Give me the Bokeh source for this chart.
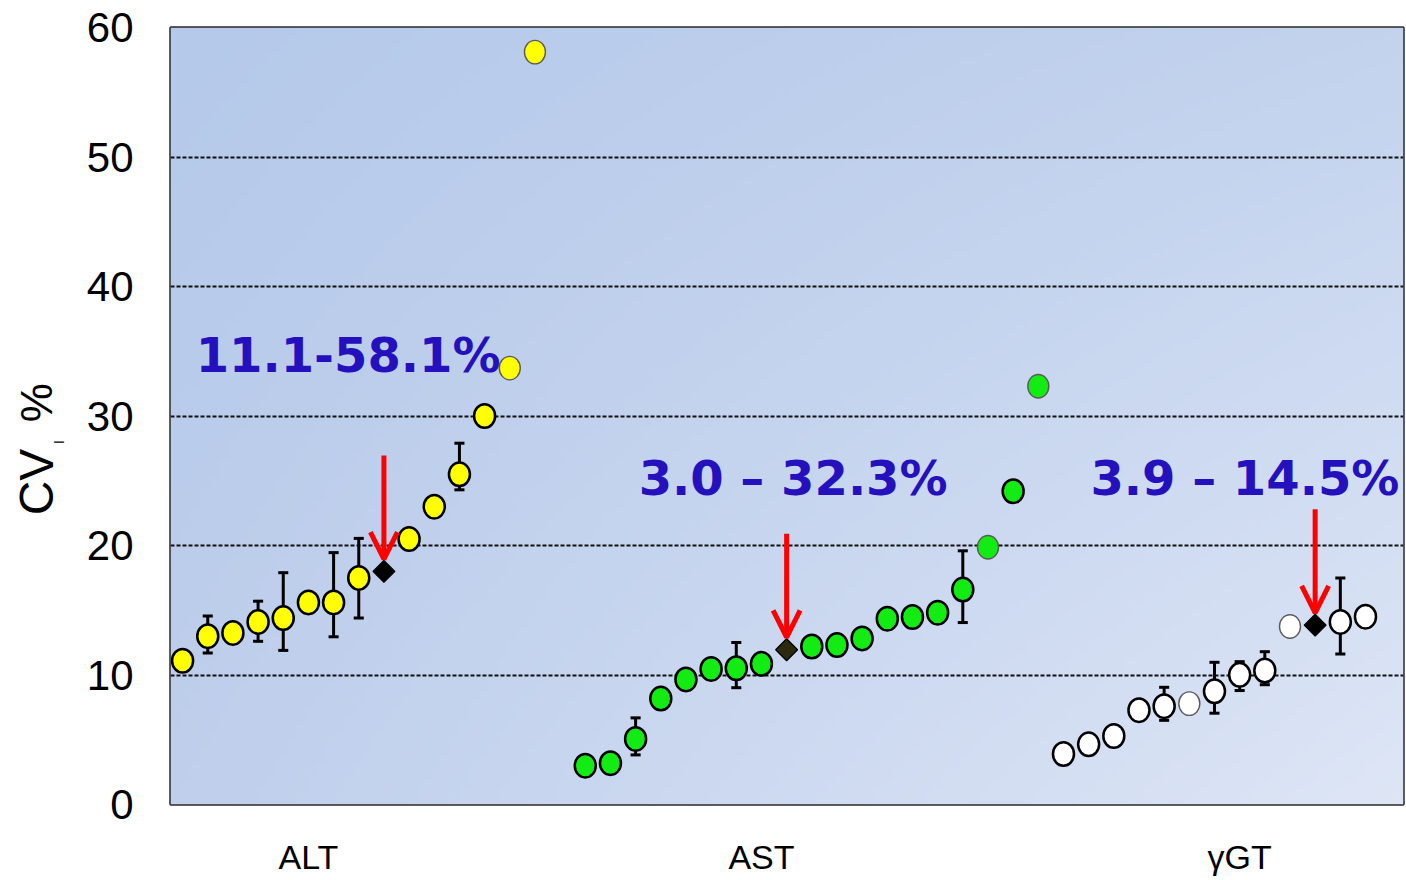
import numpy as np
from bokeh.plotting import figure
from bokeh.layouts import row
from bokeh.models import Range1d, FixedTicker, Label, Arrow, OpenHead, ColumnDataSource
from bokeh.core.properties import value
from bokeh.embed import file_html
from bokeh.resources import INLINE

# ---------------- data ----------------
groups = ["ALT", "AST", "γGT"]

alt_cv = [11.1, 13.0, 13.25, 14.1, 14.4, 15.6, 15.6, 17.5, 20.5, 23.0, 25.5, 30.0, 33.7, 58.1]
alt_err_lo = [None, 11.7, None, 12.6, 11.9, None, 12.95, 14.4, None, None, 24.3, None, None, None]
alt_err_hi = [None, 14.55, None, 15.7, 17.9, None, 19.45, 20.55, None, None, 27.9, None, None, None]
alt_pooled = 18.0

ast_cv = [3.0, 3.19, 5.06, 8.18, 9.66, 10.47, 10.52, 10.86, 12.2, 12.31, 12.82,
          14.35, 14.48, 14.81, 16.6, 19.87, 24.19, 32.3]
ast_err_lo = [None, None, 3.83, None, None, None, 9.02, None, None, None, None,
              None, None, None, 14.05, None, None, None]
ast_err_hi = [None, None, 6.69, None, None, None, 12.51, None, None, None, None,
              None, None, None, 19.59, None, None, None]
ast_pooled = 11.95

ggt_cv = [3.9, 4.65, 5.29, 7.28, 7.59, 7.79, 8.74, 10.01, 10.34, 13.75, 14.1, 14.5]
ggt_err_lo = [None, None, None, None, 6.5, None, 7.05, 8.8, 9.25, None, 11.62, None]
ggt_err_hi = [None, None, None, None, 9.05, None, 10.98, 11.03, 11.8, None, 17.5, None]
ggt_pooled = 13.85

range_labels = ["11.1-58.1%", "3.0 – 32.3%", "3.9 – 14.5%"]
y_ticks = [0, 10, 20, 30, 40, 50, 60]
y_title = ["CV", "I", "%"]

# ---------------- style / layout ----------------
group_start = [0, 16, 35]
group_label_slot = [5, 23, 42]
fill_colors = ["#ffff00", "#12ec12", "#ffffff"]
pooled_colors = ["#000000", "#2b2a10", "#000000"]
faint_outline = [{12, 13}, {15, 17}, {5, 9}]
range_label_pos = [(0.52, 34.7), (18.12, 25.2), (36.07, 25.2)]
X0, X1 = -0.48, 48.51
TOTAL_W, TOTAL_H = 1405, 878
TITLE_W = 70

p = figure(width=TOTAL_W - TITLE_W, height=TOTAL_H, output_backend="svg", toolbar_location=None,
           x_range=Range1d(X0, X1), y_range=Range1d(0, 60))
p.min_border_left = 100
p.min_border_right = 2
p.min_border_top = 27
p.min_border_bottom = TOTAL_H - 810
p.background_fill_color = "#c6d4ee"
p.border_fill_color = "white"
p.outline_line_color = "#2a2a2a"
p.outline_line_width = 2.5

# gradient background
H, W = 128, 128
u = np.linspace(0, 1, W)[None, :]
v = np.linspace(0, 1, H)[:, None]
tl = np.array([181, 201, 234.0]); tr = np.array([195, 211, 238.0])
bl = np.array([191, 207, 236.0]); br = np.array([222, 230, 246.0])
rgb = ((1 - u)[..., None] * v[..., None] * tl + u[..., None] * v[..., None] * tr +
       (1 - u)[..., None] * (1 - v)[..., None] * bl + u[..., None] * (1 - v)[..., None] * br)
rgba = np.zeros((H, W, 4), dtype=np.uint8)
rgba[..., :3] = np.clip(rgb, 0, 255).astype(np.uint8)
rgba[..., 3] = 255
img = rgba.view(dtype=np.uint32).reshape((H, W))
p.image_rgba(image=[img], x=X0, y=0, dw=X1 - X0, dh=60, level="image")

# grid / axes
p.xgrid.grid_line_color = None
p.ygrid.ticker = FixedTicker(ticks=y_ticks)
p.ygrid.grid_line_color = "#111111"
p.ygrid.grid_line_dash = "4 2"
p.ygrid.grid_line_width = 2

p.yaxis.ticker = FixedTicker(ticks=y_ticks)
p.yaxis.axis_line_color = None
p.yaxis.major_tick_line_color = None
p.yaxis.minor_tick_line_color = None
p.yaxis.major_tick_out = 0
p.yaxis.major_tick_in = 0
p.yaxis.major_label_standoff = 37
p.yaxis.major_label_text_font = "Liberation Sans"
p.yaxis.major_label_text_font_size = "42px"
p.yaxis.major_label_text_color = "black"

p.xaxis.ticker = FixedTicker(ticks=group_label_slot)
p.xaxis.major_label_overrides = {s: g for s, g in zip(group_label_slot, groups)}
p.xaxis.axis_line_color = None
p.xaxis.major_tick_line_color = None
p.xaxis.minor_tick_line_color = None
p.xaxis.major_tick_out = 0
p.xaxis.major_tick_in = 0
p.xaxis.major_label_standoff = 33
p.xaxis.major_label_text_font = "Liberation Sans"
p.xaxis.major_label_text_font_size = "34px"
p.xaxis.major_label_text_color = "black"

series = [
    (alt_cv, alt_err_lo, alt_err_hi, alt_pooled),
    (ast_cv, ast_err_lo, ast_err_hi, ast_pooled),
    (ggt_cv, ggt_err_lo, ggt_err_hi, ggt_pooled),
]

for g, (cv, lo, hi, pooled) in enumerate(series):
    vals = list(cv) + [pooled]
    order = sorted(range(len(vals)), key=lambda i: (vals[i], i))
    rank = {i: r for r, i in enumerate(order)}
    xs = [group_start[g] + rank[i] for i in range(len(cv))]
    xp = group_start[g] + rank[len(cv)]

    # error bars
    ex = [x for x, l in zip(xs, lo) if l is not None]
    el = [l for l in lo if l is not None]
    eh = [h for h in hi if h is not None]
    if ex:
        p.segment(x0=ex, y0=el, x1=ex, y1=eh, line_color="black", line_width=3)
        p.segment(x0=[x - 0.2 for x in ex], y0=eh, x1=[x + 0.2 for x in ex], y1=eh,
                  line_color="black", line_width=3)
        p.segment(x0=[x - 0.2 for x in ex], y0=el, x1=[x + 0.2 for x in ex], y1=el,
                  line_color="black", line_width=3)

    lc = ["#5a5a5a" if i in faint_outline[g] else "#000000" for i in range(len(cv))]
    lw = [1.4 if i in faint_outline[g] else 2.5 for i in range(len(cv))]
    src = ColumnDataSource(dict(x=xs, y=cv, lc=lc, lw=lw))
    p.ellipse(x="x", y="y", width=21, height=23.5, width_units="screen", height_units="screen",
              fill_color=fill_colors[g], line_color="lc", line_width="lw", source=src)

    p.scatter(x=[xp], y=[pooled], marker="square", size=15.5, angle=np.pi / 4,
              fill_color=pooled_colors[g], line_color="black", line_width=1.2)

    p.add_layout(Arrow(end=OpenHead(size=27, line_width=5, line_color="#ff0000"),
                       x_start=xp, y_start=pooled + 0.95 + 8, x_end=xp, y_end=pooled + 0.95,
                       line_width=5, line_color="#ff0000"))

    lx, ly = range_label_pos[g]
    p.add_layout(Label(x=lx, y=ly, text=range_labels[g], text_font="DejaVu Sans",
                       text_font_style="bold", text_font_size="48px", text_color="#2411bd",
                       text_align="left", text_baseline="alphabetic"))

# ---------------- y-axis title panel: "CV" with subscript "I" and "%" ----------------
t = figure(width=TITLE_W, height=TOTAL_H, output_backend="svg", toolbar_location=None,
           x_range=Range1d(0, TITLE_W), y_range=Range1d(0, TOTAL_H),
           min_border=0, min_border_left=0, min_border_right=0, min_border_top=0, min_border_bottom=0)
t.axis.visible = False
t.grid.visible = False
t.outline_line_color = None
t.background_fill_color = "white"
t.border_fill_color = "white"
# centres of each rotated piece (panel coordinates)
title_cx = [36, 58, 36]
title_cy = [TOTAL_H - 513.6, TOTAL_H - 468.7, TOTAL_H - 423.9]
title_size = ["48px", "15px", "44px"]
for txt, tx, ty, ts in zip(y_title, title_cx, title_cy, title_size):
    t.text(x=[tx], y=[ty], text=[txt], angle=np.pi / 2, text_font=value("Liberation Sans"),
           text_font_size=ts, text_color="black", text_align="center", text_baseline="middle")

layout = row(t, p, spacing=0)
open("out.html", "w").write(file_html(layout, INLINE))
